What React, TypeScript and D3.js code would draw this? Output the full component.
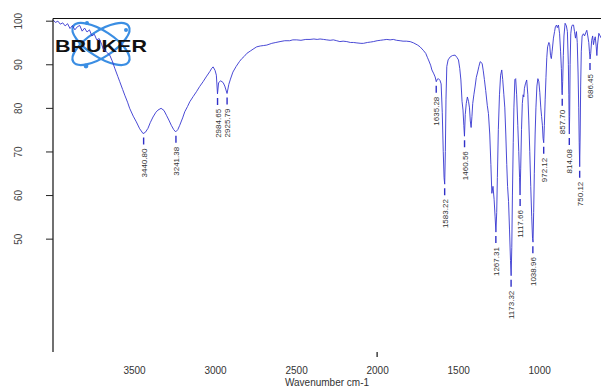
import React, { useEffect, useRef } from 'react';
import * as d3 from 'd3';

// spectrum (wavenumber cm-1 / transmittance %)
const wavenumbers = [
  4000, 3985, 3970, 3955, 3940, 3925, 3910, 3895, 3880, 3865, 3850, 3835, 3820, 3805, 3790, 3775, 3760, 3745, 3730, 3715,
  3700, 3691, 3670, 3650, 3635, 3619, 3600, 3588, 3570, 3557, 3540, 3527, 3505, 3486, 3465, 3444, 3430, 3414, 3400, 3383,
  3365, 3352, 3333, 3315, 3300, 3285, 3270, 3255, 3243, 3230, 3218, 3200, 3187, 3170, 3156, 3135, 3115, 3095, 3074, 3055,
  3033, 3020, 3012, 3000, 2992, 2985, 2978, 2965, 2950, 2940, 2926, 2915, 2905, 2890, 2870, 2850, 2835, 2820, 2804, 2780,
  2760, 2743, 2720, 2700, 2681, 2650, 2625, 2599, 2570, 2540, 2520, 2496, 2470, 2440, 2414, 2390, 2370, 2352, 2330, 2311,
  2290, 2270, 2249, 2230, 2210, 2187, 2165, 2146, 2125, 2100, 2085, 2060, 2040, 2023, 2000, 1980, 1961, 1940, 1920, 1900,
  1880, 1858, 1840, 1820, 1796, 1775, 1750, 1735, 1715, 1700, 1690, 1683, 1670, 1662, 1650, 1642, 1635, 1628, 1622, 1612,
  1605, 1598, 1592, 1587, 1583, 1579, 1575, 1570, 1562, 1549, 1535, 1519, 1508, 1498, 1490, 1483, 1476, 1470, 1465, 1461,
  1456, 1450, 1443, 1436, 1430, 1425, 1420, 1415, 1410, 1403, 1395, 1388, 1381, 1372, 1364, 1352, 1345, 1338, 1330, 1320,
  1313, 1305, 1298, 1292, 1285, 1278, 1272, 1267, 1262, 1258, 1252, 1245, 1238, 1231, 1225, 1218, 1212, 1206, 1200, 1195,
  1189, 1183, 1177, 1173, 1169, 1165, 1160, 1156, 1150, 1145, 1139, 1132, 1126, 1121, 1118, 1114, 1109, 1104, 1099, 1095,
  1091, 1085, 1077, 1070, 1064, 1058, 1052, 1046, 1041, 1038, 1034, 1030, 1025, 1020, 1014, 1008, 1002, 996, 990, 985,
  980, 976, 972, 968, 963, 958, 953, 948, 940, 935, 930, 925, 920, 912, 905, 900, 893, 888, 881, 874,
  868, 863, 860, 858, 855, 851, 847, 840, 832, 826, 820, 817, 815, 814, 812, 809, 805, 800, 795, 788,
  782, 776, 770, 765, 760, 756, 753, 750, 747, 744, 740, 735, 727, 720, 713, 706, 700, 694, 690, 686,
  682, 676, 670, 665, 660, 654, 648, 644, 640, 632, 624, 617,
];
const transmittance = [
  100.2, 99.6, 99.9, 99.2, 99.5, 98.8, 99.3, 98.2, 98.9, 97.9, 98.6, 98.9, 97.6, 98.3, 97.4, 97.9, 96.5, 96.9, 95.6, 95.9,
  94.6, 93.6, 92.8, 92.1, 90.8, 89.1, 87.2, 86, 84.2, 82.9, 81.3, 79.9, 78.1, 76.8, 75.2, 74.1, 74.4, 75.3, 76.6, 77.9,
  79, 79.5, 79.9, 79.4, 78.3, 77.2, 76, 75, 74.5, 75, 76, 77.7, 79.1, 80.3, 81.4, 82.6, 83.7, 84.9, 86, 87.1,
  88.3, 89.1, 89.4, 88.6, 87.5, 83.2, 85.8, 86.2, 85.8, 85, 83.3, 85.4, 86.6, 88.2, 89.5, 90.6, 91.3, 91.8, 92.5, 93.1,
  93.6, 94, 94.2, 94.3, 94.4, 94.8, 95, 95.2, 95.4, 95.4, 95.6, 95.6, 95.5, 95.7, 95.7, 95.8, 95.7, 95.8, 95.7, 95.6,
  95.5, 95.6, 95.4, 95.2, 95.3, 95.2, 95, 95, 94.9, 94.8, 94.8, 95, 95.1, 95.2, 95.4, 95.5, 95.6, 95.7, 95.6, 95.7,
  95.5, 95.4, 95.3, 95.3, 95.2, 94.9, 94.4, 94, 93.2, 92.5, 91.6, 91, 89.8, 88.7, 87.8, 87.1, 86, 86.6, 86.7, 86.3,
  85.5, 79, 70, 64, 62.5, 70, 82, 89.5, 91, 91.7, 92, 92.1, 91.6, 91, 89, 86.4, 81.5, 79.5, 76, 73.5,
  78.5, 81, 82.5, 81.5, 80, 77, 75.5, 78, 81, 83, 85, 87, 88, 89.5, 90.6, 90.2, 88.5, 86.5, 84, 80.5,
  78.7, 74, 67, 60.4, 62, 59, 55, 51.5, 56, 64, 75, 83, 87.5, 88.7, 86.5, 83, 80, 74, 67, 62,
  58.5, 52, 45, 41.5, 48, 60, 72, 80, 86.5, 86.7, 83, 76, 70, 64, 60, 66, 75, 81, 83, 82.5,
  84.5, 85.5, 86.4, 83, 77, 70, 62, 55, 50, 49.2, 56, 65, 74, 80, 85, 86.7, 86, 83.5, 80, 78,
  76, 73, 72, 76, 82, 87, 91.5, 94, 95, 94.5, 92, 91.3, 93, 96, 97.5, 98.6, 99, 98.4, 99, 97,
  93, 89, 84, 83, 86, 92, 96.5, 99.4, 98.8, 97.5, 90, 83, 76, 74, 78, 90, 97, 98.6, 99, 99,
  97.5, 96, 97.5, 95, 88, 80, 72, 66.5, 74, 85, 93, 96.5, 97, 96.5, 97.2, 97.8, 96.5, 95, 93, 91.2,
  92.5, 95.5, 96.5, 94.5, 95.5, 96.3, 94, 92, 94.4, 97.1, 96.5, 96,
];

// picked peaks
const peakWavenumbers = [3440.8, 3241.38, 2984.65, 2925.79, 1635.28, 1583.22, 1460.56, 1267.31, 1173.32, 1117.66, 1038.96, 972.12, 857.7, 814.08, 750.12, 686.45];
const peakLabels = ['3440.80', '3241.38', '2984.65', '2925.79', '1635.28', '1583.22', '1460.56', '1267.31', '1173.32', '1117.66', '1038.96', '972.12', '857.70', '814.08', '750.12', '686.45'];
const peakValues = [74.1, 74.5, 83.2, 83.3, 86, 62.5, 73.5, 51.5, 41.5, 60, 49.2, 72, 83, 74, 66.5, 91.2];

const xTicks = [3500, 3000, 2500, 2000, 1500, 1000];
const yTicks = [50, 60, 70, 80, 90, 100];

const W = 601;
const H = 388;

const App: React.FC = () => {
  const svgRef = useRef<SVGSVGElement>(null);

  useEffect(() => {
    if (!svgRef.current) return;
    const svg = d3.select(svgRef.current);
    svg.selectAll('*').remove();

    const left = 53;
    const top = 18.5;
    const bottom = 352;

    const x = d3.scaleLinear().domain([4000, 600]).range([left, 604]);
    const y = d3.scaleLinear().domain([24, 100.5]).range([bottom, top]);

    svg.append('rect').attr('width', W).attr('height', H).attr('fill', '#fff');

    svg.append('defs').append('clipPath').attr('id', 'plot')
      .append('rect').attr('x', left).attr('y', top - 2).attr('width', W - left).attr('height', bottom - top + 2);

    // Bruker logo
    const logo = svg.append('g');
    const orbit = '#3b8ee3';
    [-33, 33].forEach(a => {
      logo.append('ellipse')
        .attr('cx', 101).attr('cy', 44).attr('rx', 33).attr('ry', 13)
        .attr('transform', `rotate(${a},101,44)`)
        .attr('fill', 'none').attr('stroke', orbit).attr('stroke-width', 2.2);
    });
    logo.append('circle').attr('cx', 86).attr('cy', 66).attr('r', 2.4).attr('fill', orbit);
    logo.append('circle').attr('cx', 87).attr('cy', 23).attr('r', 2).attr('fill', orbit);
    logo.append('circle').attr('cx', 126).attr('cy', 30).attr('r', 2).attr('fill', orbit);
    logo.append('text')
      .attr('x', 55).attr('y', 52)
      .attr('textLength', 92).attr('lengthAdjust', 'spacingAndGlyphs')
      .attr('font-family', 'Liberation Sans, Arial, sans-serif')
      .attr('font-weight', 'bold').attr('font-size', 17)
      .attr('fill', '#111')
      .text('BRUKER');

    // spectrum
    const pts: [number, number][] = wavenumbers.map((w, i) => [w, transmittance[i]]);
    const line = d3.line<[number, number]>().x(d => x(d[0])).y(d => y(d[1]));
    svg.append('path')
      .datum(pts)
      .attr('clip-path', 'url(#plot)')
      .attr('d', line)
      .attr('fill', 'none')
      .attr('stroke', '#3535d0')
      .attr('stroke-width', 0.9);

    // peak markers and labels
    const peaks = svg.append('g').attr('clip-path', 'url(#plot)');
    peakWavenumbers.forEach((w, i) => {
      const px = x(w);
      const py = y(peakValues[i]);
      peaks.append('line')
        .attr('x1', px).attr('x2', px)
        .attr('y1', py + 4).attr('y2', py + 11)
        .attr('stroke', '#3030c8').attr('stroke-width', 1.4);
      peaks.append('text')
        .attr('transform', `translate(${px + 3},${py + 15}) rotate(-90)`)
        .attr('text-anchor', 'end')
        .attr('font-family', 'Liberation Sans, Arial, sans-serif')
        .attr('font-size', 8)
        .attr('fill', '#333')
        .text(peakLabels[i]);
    });

    // frame: left axis and top line
    svg.append('line').attr('x1', left).attr('x2', left).attr('y1', top).attr('y2', bottom)
      .attr('stroke', '#111').attr('stroke-width', 1.2);
    svg.append('line').attr('x1', left).attr('x2', W).attr('y1', top).attr('y2', top)
      .attr('stroke', '#111').attr('stroke-width', 1.2);

    // y axis
    const yAxis = svg.append('g').attr('transform', `translate(${left},0)`)
      .call(d3.axisLeft(y).tickValues(yTicks).tickSize(7).tickFormat(d3.format('d')));
    yAxis.select('.domain').remove();
    yAxis.selectAll('.tick line').attr('stroke', '#222');
    yAxis.selectAll('.tick text')
      .attr('x', null).attr('dy', null)
      .attr('transform', 'translate(-31,0) rotate(-90)')
      .attr('text-anchor', 'middle')
      .attr('font-family', 'Liberation Sans, Arial, sans-serif')
      .attr('font-size', 10)
      .attr('fill', '#444');

    // x axis
    const xAxis = svg.append('g').attr('transform', `translate(0,${bottom})`)
      .call(d3.axisBottom(x).tickValues(xTicks).tickSize(0).tickPadding(15).tickFormat(d3.format('d')));
    xAxis.select('.domain').remove();
    xAxis.selectAll('.tick text')
      .attr('font-family', 'Liberation Sans, Arial, sans-serif')
      .attr('font-size', 10)
      .attr('fill', '#333');
    svg.append('line').attr('x1', x(2000)).attr('x2', x(2000)).attr('y1', bottom).attr('y2', bottom + 5)
      .attr('stroke', '#111').attr('stroke-width', 1.2);

    svg.append('text')
      .attr('x', 327).attr('y', 386)
      .attr('text-anchor', 'middle')
      .attr('font-family', 'Liberation Sans, Arial, sans-serif')
      .attr('font-size', 10)
      .attr('fill', '#333')
      .text('Wavenumber cm-1');
  }, []);

  return (
    <svg
      ref={svgRef}
      width={W}
      height={H}
      style={{ position: 'absolute', left: 0, top: 0, display: 'block' }}
    />
  );
};

export default App;
